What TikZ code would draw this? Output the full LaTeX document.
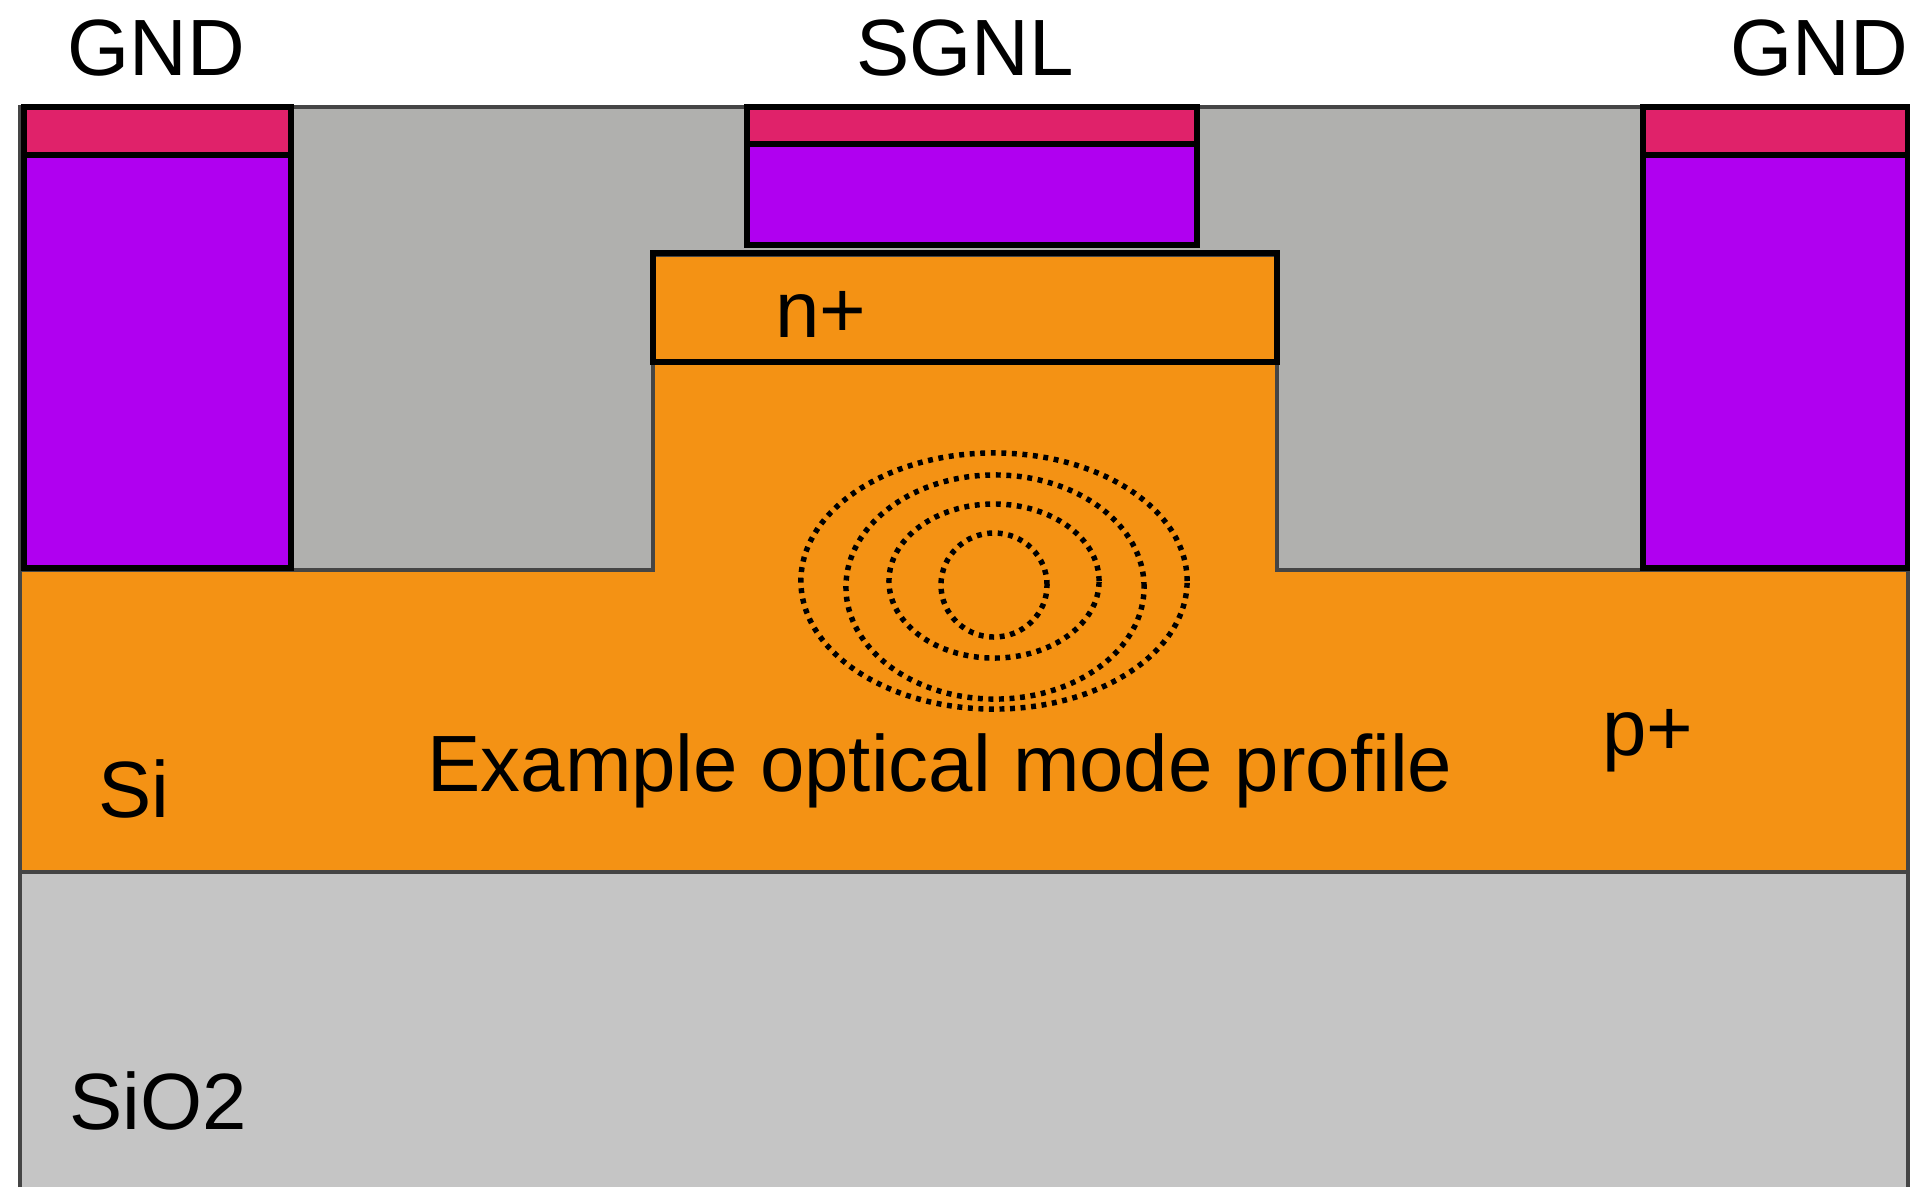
\documentclass[tikz,border=0pt]{standalone}
\usepackage{fontspec}
\setmainfont{Liberation Sans}
\definecolor{oxide}{HTML}{C5C5C5}
\definecolor{cladding}{HTML}{B0B0AE}
\definecolor{silicon}{HTML}{F49214}
\definecolor{metal}{HTML}{B000F0}
\definecolor{contact}{HTML}{E0226A}
\definecolor{edge}{HTML}{454545}

\begin{document}
\begin{tikzpicture}[%
    x=0.01cm,
    y=-0.01cm,
    layer/.style={draw=edge, line width=1.3pt},
    box/.style={draw=black, line width=1.7pt},
    mode/.style={line width=1.55pt, dash pattern=on 1.4pt off 1.6pt},
    lbl/.style={anchor=base, inner sep=0, font={\fontsize{22.7}{27}\selectfont}}
    ]

    \useasboundingbox (0,0) rectangle (1910,1187);

    % stack
    \fill[oxide] (20,872) rectangle (1908,1187);
    \fill[cladding] (20,107) rectangle (1908,570);
    \draw[layer, fill=silicon] (20,570) -- (653,570) -- (653,255) -- (1277,255) -- (1277,570) -- (1908,570) -- (1908,872) -- (20,872) -- cycle;
    \draw[layer] (20,1187) -- (20,107) -- (1908,107) -- (1908,1187);

    % n+ region
    \draw[box, line width=1.5pt] (653,253) rectangle (1277,362);

    % electrodes
    \draw[box, fill=metal] (24,155) rectangle (291,568);
    \draw[box, fill=contact] (24,107) rectangle (291,155);
    \draw[box, fill=metal] (747,144) rectangle (1197,245);
    \draw[box, fill=contact] (747,107) rectangle (1197,144);
    \draw[box, fill=metal] (1643,155) rectangle (1908,568);
    \draw[box, fill=contact] (1643,107) rectangle (1908,155);

    % mode profile
    \draw[mode] (994,581) ellipse [x radius=1.93cm, y radius=1.28cm];
    \draw[mode] (995,587) ellipse [x radius=1.49cm, y radius=1.12cm];
    \draw[mode] (994,581) ellipse [x radius=1.05cm, y radius=0.77cm];
    \draw[mode] (994,585) ellipse [x radius=0.53cm, y radius=0.52cm];

    \node[lbl] (gndl) at (156,75) {GND};
    \node[lbl] (sgnl) at (965,75) {SGNL};
    \node[lbl] (gndr) at (1819,75) {GND};
    \node[lbl] (nplus) at (821,337) {n+};
    \node[lbl] (pplus) at (1648,755) {p+};
    \node[lbl] (modetext) at (940,791) {Example optical mode profile};
    \node[lbl] (si) at (134,817) {Si};
    \node[lbl] (oxidetext) at (158,1129) {SiO2};

\end{tikzpicture}
\end{document}
